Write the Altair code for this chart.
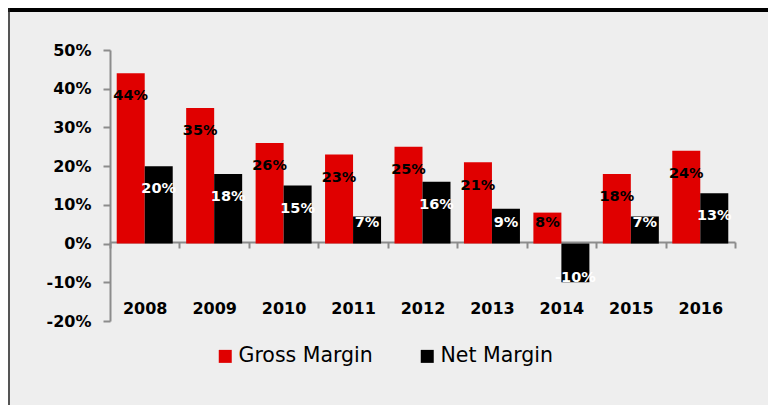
import altair as alt
import pandas as pd

years = ["2008", "2009", "2010", "2011", "2012", "2013", "2014", "2015", "2016"]
gross_margin = [44, 35, 26, 23, 25, 21, 8, 18, 24]
net_margin = [20, 18, 15, 7, 16, 9, -10, 7, 13]
series_names = ["Gross Margin", "Net Margin"]
series_colors = ["#e00000", "#000000"]
y_ticks = [-0.2, -0.1, 0, 0.1, 0.2, 0.3, 0.4, 0.5]

rows = []
for y, g, n in zip(years, gross_margin, net_margin):
    rows.append({"year": y, "series": series_names[0], "v": g / 100})
    rows.append({"year": y, "series": series_names[1], "v": n / 100})
df = pd.DataFrame(rows)

FONT = "DejaVu Sans"

x_axis = alt.Axis(
    title=None, orient="bottom", offset=-79, labelAngle=0,
    tickBand="extent", tickSize=6, tickColor="#8c8c8c", tickWidth=2,
    domainColor="#8c8c8c", domainWidth=2, labelPadding=52,
    labelFont=FONT, labelFontWeight="bold", labelFontSize=16, labelColor="#000000",
)
y_axis = alt.Axis(
    title=None, values=y_ticks, labelOverlap=False,
    labelExpr="replace(format(datum.value, '.0%'), '\u2212', '-')",
    grid=False, tickSize=7, tickColor="#8c8c8c", tickWidth=2,
    domainColor="#8c8c8c", domainWidth=2, labelPadding=12,
    labelFont=FONT, labelFontWeight="bold", labelFontSize=16, labelColor="#000000",
)
x_scale = alt.Scale(paddingInner=0, paddingOuter=0)
y_scale = alt.Scale(domain=[-0.2, 0.5], nice=False, zero=False)
off_scale = alt.Scale(paddingInner=0, paddingOuter=0.24)

base = alt.Chart(df)

bars = base.mark_bar(size=28).encode(
    x=alt.X("year:N", sort=years, scale=x_scale, axis=x_axis),
    xOffset=alt.XOffset("series:N", sort=series_names, scale=off_scale),
    y=alt.Y("v:Q", scale=y_scale, axis=y_axis),
    y2=alt.datum(0),
    color=alt.Color(
        "series:N",
        scale=alt.Scale(domain=series_names, range=series_colors),
        legend=alt.Legend(
            title=None, orient="none", direction="horizontal",
            legendX=105, legendY=296,
            symbolType="square", symbolSize=169, symbolStrokeWidth=0,
            symbolOpacity=1, labelFont=FONT, labelFontSize=20.5,
            labelColor="#000000", labelOffset=3, columnPadding=44,
        ),
    ),
)

labels = base.transform_calculate(
    pos="datum.v > 0 ? max(datum.v - 0.06, 0.053) : datum.v + 0.012",
    txt="replace(format(datum.v, '.0%'), '\u2212', '-')",
).mark_text(font=FONT, fontWeight="bold", fontSize=14.5, baseline="middle").encode(
    x=alt.X("year:N", sort=years, scale=x_scale, axis=x_axis),
    xOffset=alt.XOffset("series:N", sort=series_names, scale=off_scale),
    y=alt.Y("pos:Q", scale=y_scale, axis=y_axis),
    text="txt:N",
    color=alt.condition(
        alt.datum.series == series_names[0], alt.value("#000000"), alt.value("#ffffff")
    ),
)

deco_data = alt.Data(values=[{"k": 1}])
header = alt.Chart(deco_data).mark_rect(color="#000000").encode(
    x=alt.value(-102), x2=alt.value(658), y=alt.value(-42), y2=alt.value(-38)
)
left_border = alt.Chart(deco_data).mark_rule(color="#222222", strokeWidth=1.5).encode(
    x=alt.value(-101), y=alt.value(-42), y2=alt.value(355)
)

chart = alt.layer(header, left_border, bars, labels).properties(
    width=625, height=271,
    autosize=alt.AutoSizeParams(type="none"),
    padding={"left": 102, "top": 42, "right": 33, "bottom": 84},
).configure(background="#eeeeee").configure_view(stroke=None)

chart.save("out.html", embed_options={"renderer": "svg", "actions": False})
